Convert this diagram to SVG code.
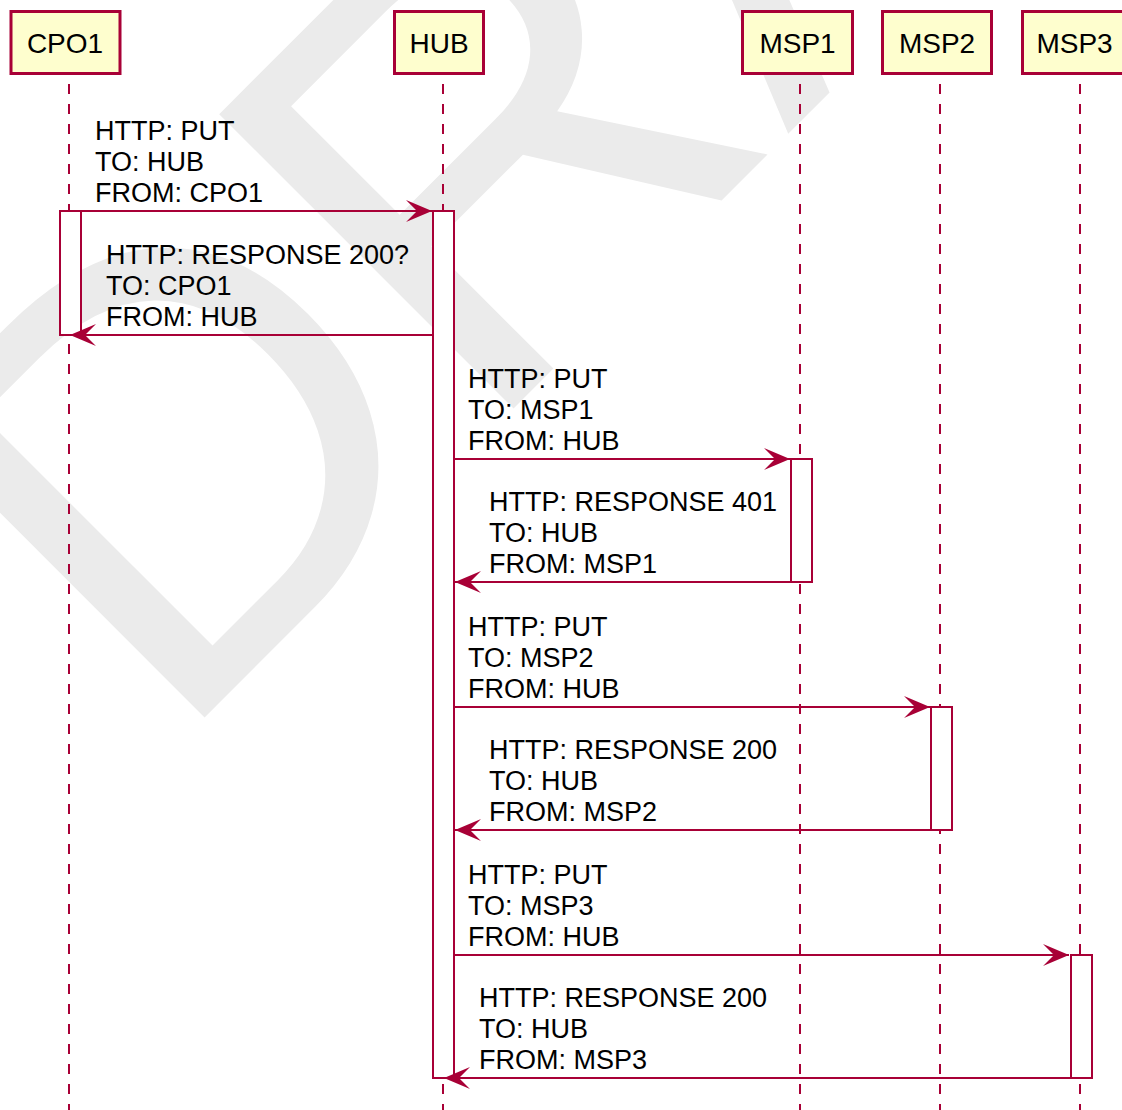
<svg xmlns="http://www.w3.org/2000/svg" width="1122" height="1110" viewBox="0 0 1122 1110">
<style>
.wm{font-family:"Liberation Sans",Arial,sans-serif;font-size:605px;fill:#EBEBEB}
.pbox{fill:#FEFECE;stroke:#A80036;stroke-width:3}
.pt{font-family:"Liberation Sans",Arial,sans-serif;font-size:28px;fill:#000000;text-anchor:middle}
.life{stroke:#A80036;stroke-width:2;stroke-dasharray:10,10;fill:none}
.act{fill:#FFFFFF;stroke:#A80036;stroke-width:2}
.msg{stroke:#A80036;stroke-width:2;fill:none;marker-end:url(#arrow)}
.mt{font-family:"Liberation Sans",Arial,sans-serif;font-size:27px;fill:#000000}
</style>
<defs>
<marker id="arrow" viewBox="0 0 26 22" refX="26" refY="11" markerWidth="26" markerHeight="22" markerUnits="userSpaceOnUse" orient="auto">
<path d="M0,0 L26,11 L0,22 L11,11 Z" fill="#A80036"/>
</marker>
</defs>
<rect x="0" y="0" width="1122" height="1110" fill="#FFFFFF"/>
<g id="watermark">
<text class="wm" x="169.5" y="752.5" transform="rotate(-45 169.5 752.5)">DRAFT</text>
</g>
<g id="lifelines">
<line class="life" x1="69" y1="84" x2="69" y2="1110"/>
<line class="life" x1="443" y1="84" x2="443" y2="1110"/>
<line class="life" x1="800" y1="84" x2="800" y2="1110"/>
<line class="life" x1="940" y1="84" x2="940" y2="1110"/>
<line class="life" x1="1080" y1="84" x2="1080" y2="1110"/>
</g>
<g id="CPO1">
<rect class="pbox" x="11" y="11.5" width="109" height="62"/>
<text class="pt" x="65" y="53">CPO1</text>
<rect class="act" x="60" y="211" width="21" height="124"/>
</g>
<g id="HUB">
<rect class="pbox" x="394.5" y="11.5" width="89" height="62"/>
<text class="pt" x="439" y="53">HUB</text>
<rect class="act" x="433" y="211" width="21" height="867"/>
</g>
<g id="MSP1">
<rect class="pbox" x="742.5" y="11.5" width="110" height="62"/>
<text class="pt" x="797.5" y="53">MSP1</text>
<rect class="act" x="791" y="459" width="21" height="123"/>
</g>
<g id="MSP2">
<rect class="pbox" x="882.5" y="11.5" width="109" height="62"/>
<text class="pt" x="937" y="53">MSP2</text>
<rect class="act" x="931" y="707" width="21" height="123"/>
</g>
<g id="MSP3">
<rect class="pbox" x="1022.5" y="11.5" width="104" height="62"/>
<text class="pt" x="1074.5" y="53">MSP3</text>
<rect class="act" x="1071" y="955" width="21" height="123"/>
</g>
<g id="connectors">
<line class="msg" x1="81" y1="211" x2="432" y2="211"/>
<line class="msg" x1="432" y1="335" x2="70" y2="335"/>
<line class="msg" x1="454" y1="459" x2="790" y2="459"/>
<line class="msg" x1="791" y1="582" x2="455" y2="582"/>
<line class="msg" x1="454" y1="707" x2="930" y2="707"/>
<line class="msg" x1="931" y1="830" x2="455" y2="830"/>
<line class="msg" x1="454" y1="955" x2="1069" y2="955"/>
<line class="msg" x1="1071" y1="1078" x2="444" y2="1078"/>
</g>
<g id="labels">
<text class="mt" x="95" y="139.5"><tspan x="95">HTTP: PUT</tspan><tspan x="95" dy="31">TO: HUB</tspan><tspan x="95" dy="31">FROM: CPO1</tspan></text>
<text class="mt" x="106" y="263.5"><tspan x="106">HTTP: RESPONSE 200?</tspan><tspan x="106" dy="31">TO: CPO1</tspan><tspan x="106" dy="31">FROM: HUB</tspan></text>
<text class="mt" x="468" y="387.5"><tspan x="468">HTTP: PUT</tspan><tspan x="468" dy="31">TO: MSP1</tspan><tspan x="468" dy="31">FROM: HUB</tspan></text>
<text class="mt" x="489" y="510.5"><tspan x="489">HTTP: RESPONSE 401</tspan><tspan x="489" dy="31">TO: HUB</tspan><tspan x="489" dy="31">FROM: MSP1</tspan></text>
<text class="mt" x="468" y="635.5"><tspan x="468">HTTP: PUT</tspan><tspan x="468" dy="31">TO: MSP2</tspan><tspan x="468" dy="31">FROM: HUB</tspan></text>
<text class="mt" x="489" y="758.5"><tspan x="489">HTTP: RESPONSE 200</tspan><tspan x="489" dy="31">TO: HUB</tspan><tspan x="489" dy="31">FROM: MSP2</tspan></text>
<text class="mt" x="468" y="883.5"><tspan x="468">HTTP: PUT</tspan><tspan x="468" dy="31">TO: MSP3</tspan><tspan x="468" dy="31">FROM: HUB</tspan></text>
<text class="mt" x="479" y="1006.5"><tspan x="479">HTTP: RESPONSE 200</tspan><tspan x="479" dy="31">TO: HUB</tspan><tspan x="479" dy="31">FROM: MSP3</tspan></text>
</g>
</svg>
